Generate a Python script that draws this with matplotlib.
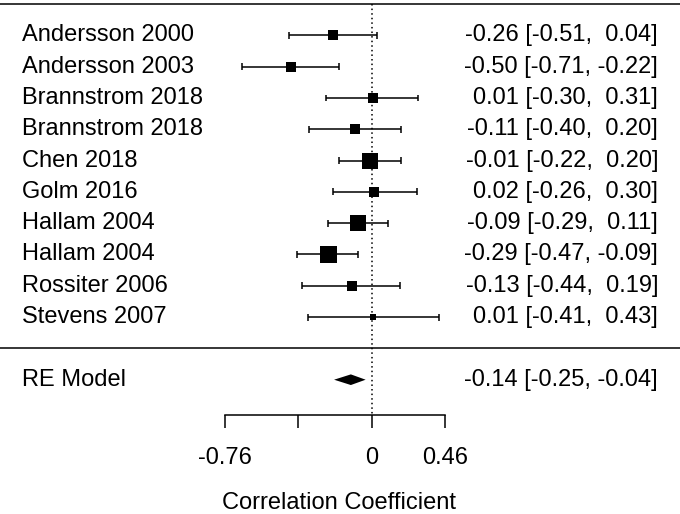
import numpy as np
import matplotlib
matplotlib.use("Agg")
import matplotlib.pyplot as plt
import matplotlib.transforms as mtransforms

plt.rcParams['font.family'] = ['Liberation Sans', 'DejaVu Sans']

studies = ["Andersson 2000", "Andersson 2003", "Brannstrom 2018", "Brannstrom 2018",
           "Chen 2018", "Golm 2016", "Hallam 2004", "Hallam 2004",
           "Rossiter 2006", "Stevens 2007"]
est = [-0.26, -0.50, 0.01, -0.11, -0.01, 0.02, -0.09, -0.29, -0.13, 0.01]
ci_lo = [-0.51, -0.71, -0.30, -0.40, -0.22, -0.26, -0.29, -0.47, -0.44, -0.41]
ci_hi = [0.04, -0.22, 0.31, 0.20, 0.20, 0.30, 0.11, -0.09, 0.19, 0.43]
weights = [8.7, 7.8, 8.7, 8.7, 13.6, 9.7, 14.5, 15.5, 7.8, 4.9]

re_est, re_lo, re_hi = -0.14, -0.25, -0.04
tick_z = [-1.0, -0.5, 0.0, 0.5]           # axis ticks on Fisher z scale
tick_labels = ["-0.76", "", "0", "0.46"]  # back-transformed labels

def fmt(e, l, h):
    def f(v):
        s = "%.2f" % v
        return s if v < 0 else " " + s
    return "%.2f [%s, %s]" % (e, f(l).strip() if l < 0 else f(l), f(h))

fig = plt.figure(figsize=(6.8, 5.14), dpi=100)
ax = fig.add_axes([0, 0, 1, 1])
ax.set_xscale('function', functions=(np.arctanh, np.tanh))
ax.set_xlim(np.tanh(-371.5 / 146.5), np.tanh(308.5 / 146.5))
ax.set_ylim(-5.29, 11.13)
ax.axis('off')

fs = 17
lw = 1.1
k = len(studies)
rows = np.arange(k, 0, -1)
trans = mtransforms.blended_transform_factory(ax.transAxes, ax.transData)

wmin, wmax = min(weights), max(weights)
for r, name, e, l, h, w in zip(rows, studies, est, ci_lo, ci_hi, weights):
    ax.plot([l, h], [r, r], color='black', lw=lw, solid_capstyle='butt')
    ax.vlines([l, h], r - 0.11, r + 0.11, color='black', lw=lw)
    size_px = 6 + (w - wmin) / (wmax - wmin) * 11
    ax.plot([e], [r], marker='s', color='black', markeredgewidth=0,
            markersize=size_px * 0.72, linestyle='none')
    ax.text(22 / 680, r, name, transform=trans, fontsize=fs, va='center', ha='left')
    ax.text(658 / 680, r, fmt(e, l, h), transform=trans, fontsize=fs,
            va='center', ha='right')

# summary diamond
ax.fill([re_lo, re_est, re_hi, re_est], [-1, -0.83, -1, -1.17], color='black', lw=0)
ax.text(22 / 680, -1, "RE Model", transform=trans, fontsize=fs, va='center', ha='left')
ax.text(658 / 680, -1, fmt(re_est, re_lo, re_hi), transform=trans, fontsize=fs,
        va='center', ha='right')

# separators and reference line
ax.axhline(k + 1, color='black', lw=lw)
ax.axhline(0, color='black', lw=lw)
ax.plot([0, 0], [k + 1, -2.13], color='black', lw=lw, linestyle=(0, (1, 2)))

# x axis
tick_r = np.tanh(tick_z)
ax.plot([tick_r[0], tick_r[-1]], [-2.13, -2.13], color='black', lw=lw)
ax.vlines(tick_r, -2.55, -2.13, color='black', lw=lw)
for t, lab in zip(tick_r, tick_labels):
    ax.text(t, -3.5, lab, fontsize=fs, ha='center', va='center')
ax.text(np.tanh(-0.22), -4.94, "Correlation Coefficient", fontsize=fs,
        ha='center', va='center')

fig.savefig("out.png", dpi=100)
